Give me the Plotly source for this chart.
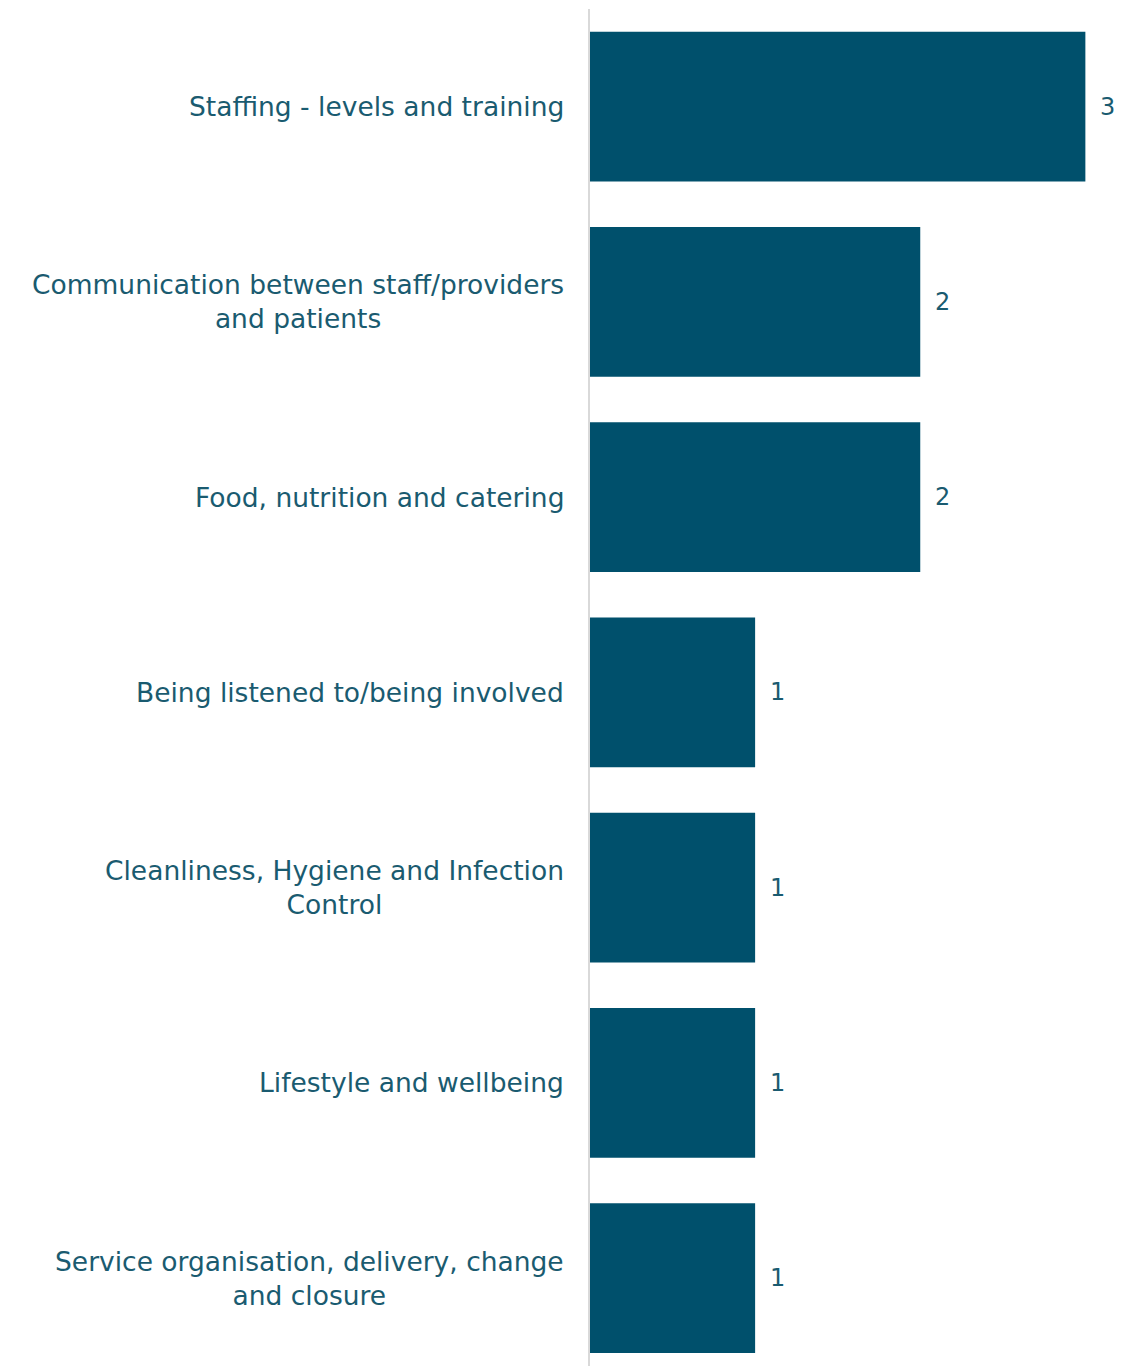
import plotly.graph_objects as go

categories = [
    "Staffing - levels and training",
    "Communication between staff/providers<br>and patients",
    "Food, nutrition and catering",
    "Being listened to/being involved",
    "Cleanliness, Hygiene and Infection<br>Control",
    "Lifestyle and wellbeing",
    "Service organisation, delivery, change<br>and closure",
]
values = [3, 2, 2, 1, 1, 1, 1]

bar_color = "#00506c"
text_color = "#1a5b70"
FONT = "DejaVu Sans"

fig = go.Figure(go.Bar(
    x=values,
    y=categories,
    orientation="h",
    marker=dict(color=bar_color, line=dict(width=0)),
    cliponaxis=False,
    width=0.768,
    hoverinfo="x+y",
))

annotations = []
for cat, v in zip(categories, values):
    # category label, centred multi-line, right-anchored beside axis
    annotations.append(dict(
        x=0, xref="paper", y=cat, yref="y",
        text=cat, showarrow=False,
        xanchor="right", yanchor="middle", align="center",
        xshift=-24,
        font=dict(family=FONT, size=26.5, color=text_color),
    ))
    # value label outside bar end
    annotations.append(dict(
        x=v, xref="x", y=cat, yref="y",
        text=str(v), showarrow=False,
        xanchor="left", yanchor="middle",
        xshift=13,
        font=dict(family=FONT, size=24, color=text_color),
    ))

fig.update_layout(
    width=1125,
    height=1366,
    margin=dict(l=590, r=0, t=9, b=0),
    paper_bgcolor="white",
    plot_bgcolor="white",
    showlegend=False,
    font=dict(family=FONT, color=text_color),
    annotations=annotations,
)
fig.update_xaxes(
    range=[0, 3.24],
    showgrid=False,
    zeroline=False,
    showticklabels=False,
    showline=False,
)
fig.update_yaxes(
    type="category",
    range=[6.45, -0.5],
    showgrid=False,
    zeroline=False,
    showline=True,
    linecolor="#d9d9d9",
    linewidth=2,
    ticks="",
    showticklabels=False,
)

fig.write_html("out.html")
